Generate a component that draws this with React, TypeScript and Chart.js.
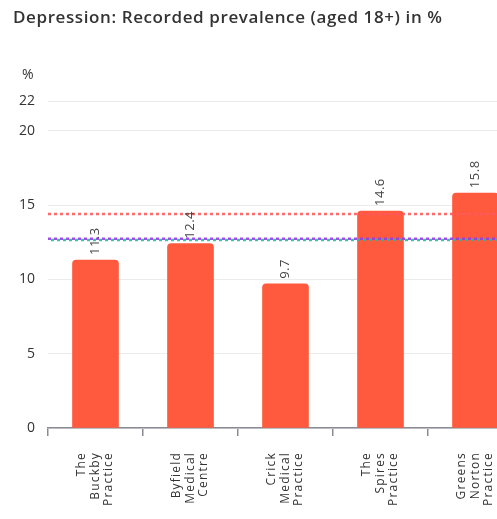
import React, { useEffect, useRef } from "react";
import { Chart, registerables } from "chart.js";

Chart.register(...registerables);

const TITLE = "Depression: Recorded prevalence (aged 18+) in %";
const CATEGORIES: string[][] = [
  ["The", "Buckby", "Practice"],
  ["Byfield", "Medical", "Centre"],
  ["Crick", "Medical", "Practice"],
  ["The", "Spires", "Practice"],
  ["Greens", "Norton", "Practice"],
];
const VALUES = [11.3, 12.4, 9.7, 14.6, 15.8];
const Y_TICKS = [0, 5, 10, 15, 20, 22];
const REF_LINES = [
  { value: 14.4, color: "rgba(255,90,90,0.9)", offset: 0, dy: 0 },
  { value: 12.7, color: "rgba(150,60,230,0.9)", offset: 0, dy: -0.5 },
  { value: 12.7, color: "rgba(30,190,160,0.9)", offset: 3, dy: 0.8 },
];

const overlayPlugin = {
  id: "overlay",
  afterDatasetsDraw(chart: any) {
    const ctx = chart.ctx;
    const area = chart.chartArea;
    const y = chart.scales.y;
    const x = chart.scales.x;
    ctx.save();
    REF_LINES.forEach((r) => {
      const py = y.getPixelForValue(r.value) + r.dy;
      ctx.beginPath();
      ctx.setLineDash([3, 3]);
      ctx.lineDashOffset = r.offset;
      ctx.lineWidth = 2.5;
      ctx.strokeStyle = r.color;
      ctx.moveTo(area.left, py);
      ctx.lineTo(area.right, py);
      ctx.stroke();
    });
    ctx.setLineDash([]);
    const meta = chart.getDatasetMeta(0);
    ctx.font = "13px 'Open Sans', sans-serif";
    (ctx as any).letterSpacing = "0.5px";
    ctx.fillStyle = "#444";
    ctx.textAlign = "left";
    ctx.textBaseline = "middle";
    meta.data.forEach((bar: any, i: number) => {
      ctx.save();
      ctx.translate(bar.x, bar.y - 5);
      ctx.rotate(-Math.PI / 2);
      ctx.fillText(String(VALUES[i]), 0, 0);
      ctx.restore();
    });
    // x category labels
    ctx.font = "12px 'Open Sans', sans-serif";
    (ctx as any).letterSpacing = "1.2px";
    ctx.fillStyle = "#333";
    ctx.textAlign = "right";
    ctx.textBaseline = "middle";
    const top = area.bottom + 24;
    CATEGORIES.forEach((lines, i) => {
      const cx = x.getPixelForTick(i);
      ctx.save();
      ctx.translate(cx, top);
      ctx.rotate(-Math.PI / 2);
      lines.forEach((ln, j) => {
        ctx.fillText(ln, 0, (j - (lines.length - 1) / 2) * 13.5);
      });
      ctx.restore();
    });
    ctx.restore();
  },
  afterDraw(chart: any) {
    const ctx = chart.ctx;
    ctx.save();
    ctx.font = "600 17px 'Open Sans', sans-serif";
    (ctx as any).letterSpacing = "0.6px";
    ctx.fillStyle = "#333";
    ctx.textAlign = "left";
    ctx.textBaseline = "middle";
    ctx.fillText(TITLE, 13, 18);
    (ctx as any).letterSpacing = "0px";
    ctx.font = "14px 'Open Sans', sans-serif";
    ctx.fillText("%", 22, 75);
    ctx.restore();
  },
};

export default function App() {
  const ref = useRef<HTMLCanvasElement>(null);
  useEffect(() => {
    if (!ref.current) return;
    const chart = new Chart(ref.current, {
      type: "bar",
      data: {
        labels: CATEGORIES,
        datasets: [
          {
            data: VALUES,
            backgroundColor: "#ff5a3d",
            borderRadius: 4,
            borderSkipped: "bottom",
            barThickness: 46,
          },
        ],
      },
      options: {
        animation: false,
        responsive: false,
        maintainAspectRatio: false,
        layout: { padding: { top: 101, right: 7, left: 0, bottom: 0 } },
        plugins: { legend: { display: false }, tooltip: { enabled: false }, title: { display: false } },
        scales: {
          x: {
            grid: { display: true, drawOnChartArea: false, offset: true, tickLength: 8, color: "#8a8a95", lineWidth: 1.5 },
            border: { display: true, color: "#8a8a95", width: 1.5 },
            ticks: { display: false },
            afterFit(scale: any) {
              scale.height = 91;
            },
          },
          y: {
            min: 0,
            max: 22,
            afterBuildTicks(scale: any) {
              scale.ticks = Y_TICKS.map((v) => ({ value: v }));
            },
            afterFit(scale: any) {
              scale.width = 48;
            },
            grid: { color: "#ececec", drawTicks: false },
            border: { display: false },
            ticks: {
              color: "#333",
              padding: 13,
              font: { family: "'Open Sans', sans-serif", size: 14 },
            },
          },
        },
      },
      plugins: [overlayPlugin],
    });
    return () => chart.destroy();
  }, []);
  return (
    <div style={{ position: "fixed", left: 0, top: 0, width: 497, height: 519, overflow: "hidden", background: "#fff" }}>
      <canvas ref={ref} width={530} height={519} style={{ display: "block" }} />
    </div>
  );
}
